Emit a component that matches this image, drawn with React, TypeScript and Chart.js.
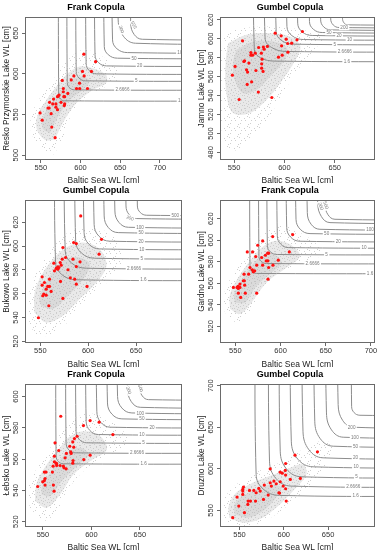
import React, { useEffect, useRef } from "react";
import { Chart, registerables } from "chart.js";

Chart.register(...registerables);

const FONT = "'Liberation Sans', Arial, Helvetica, sans-serif";
const X_TITLE = "Baltic Sea WL [cm]";
const LEVELS = ["1.6", "2.6666", "5", "10", "20", "50", "100", "200", "500"];

type Pt = [number, number];

// ---------------- Panel 1 : Resko Przymorskie (Frank) ----------------
const p1Title = "Frank Copula";
const p1YTitle = "Resko Przymorskie Lake WL [cm]";
const p1XRange = [530, 728];
const p1YRange = [494, 670];
const p1XTicks = [550, 600, 650, 700];
const p1YTicks = [500, 550, 600, 650];
const p1RedX = [604.2, 619.0, 613.8, 602.5, 604.6, 591.7, 588.3, 577.0, 598.8, 578.3, 595.0, 599.0, 608.8, 578.3, 584.0, 579.0, 573.0, 572.0, 571.0, 580.0, 575.4, 580.0, 579.6, 569.0, 565.0, 561.0, 569.0, 571.0, 560.4, 559.0, 563.0, 549.0, 551.7, 563.8, 568.0, 566.0];
const p1RedY = [624.2, 615.0, 603.0, 603.0, 597.5, 597.5, 592.6, 592.0, 588.5, 582.0, 582.0, 582.0, 582.0, 578.0, 576.0, 572.0, 574.0, 573.0, 572.0, 572.0, 565.0, 563.0, 561.0, 563.0, 563.0, 565.0, 559.0, 556.0, 558.0, 558.0, 551.0, 552.0, 543.0, 534.5, 521.5, 569.0];
const p1CloudOuter: Pt[] = [[565.4,500.4],[575.8,514.8],[582.1,535.2],[592.5,555.7],[607.1,572.1],[627.9,582.4],[644.6,590.6],[648.8,600.8],[636.3,615.2],[619.6,625.4],[602.9,629.5],[588.3,621.3],[575.8,607.0],[565.4,592.6],[552.9,576.2],[542.5,559.8],[537.1,545.5],[538.3,527.0],[548.8,510.7]];
const p1CloudMid: Pt[] = [[567.5,518.9],[580.0,543.4],[594.6,563.9],[615.4,580.3],[632.1,588.5],[632.1,598.8],[615.4,607.0],[598.8,609.0],[582.1,598.8],[569.6,584.4],[557.1,568.0],[546.7,551.6],[544.6,533.2],[555.0,518.9]];
const p1CloudCore: Pt[] = [[561.3,527.0],[571.7,547.5],[586.3,568.0],[602.9,580.3],[611.3,590.6],[602.9,596.7],[588.3,592.6],[575.8,580.3],[563.3,563.9],[552.9,547.5],[552.1,533.2]];
const p1Vx = [572.5, 583.3, 594.6, 607.1, 618.3, 630.0, 640.4, 647.5, 663.3];
const p1Hy = [566.8, 580.3, 591.4, 600.0, 609.8, 619.3, 626.2, 637.7, 642.6];
const p1BendY = [574.2, 589.3, 602.9, 613.1, 623.4, 633.6, 641.8, 666.4, 662.3];
const p1BendX = [580.0, 592.5, 606.3, 620.4, 632.9, 646.7, 659.2, 669.6, 677.9];
const p1KneeX = [574.8, 586.1, 598.1, 611.1, 622.7, 635.0, 646.0, 654.1, 667.7];
const p1KneeY = [569.0, 583.0, 594.9, 603.9, 613.9, 623.6, 630.9, 646.3, 648.5];
const p1LabelText = ["1.6", "2.6666", "5", "20", "50", "100", "200", "500"];
const p1LabelX = [727, 652.9, 670.4, 674.6, 667.5, 727, 651.7, 667.5];
const p1LabelY = [566.8, 580.3, 591.4, 609.8, 619.3, 626.2, 654.9, 660.2];
const p1LabelRot = [0, 0, 0, 0, 0, 0, 70, 62];

// ---------------- Panel 2 : Jamno (Gumbel) ----------------
const p2Title = "Gumbel Copula";
const p2YTitle = "Jamno Lake WL [cm]";
const p2XRange = [536, 690];
const p2YRange = [472, 623];
const p2XTicks = [550, 600, 650];
const p2YTicks = [480, 500, 520, 540, 560, 580, 600, 620];
const p2RedX = [617.9, 590.8, 596.8, 612.5, 601.8, 558.4, 607.2, 603.2, 597.2, 583.1, 579.1, 579.8, 574.4, 571.1, 566.7, 568.4, 566.7, 577.1, 603.5, 597.8, 594.1, 577.8, 564.7, 559.7, 560.4, 551.0, 577.4, 577.4, 562.4, 563.4, 571.7, 578.8, 548.3, 567.4, 563.0, 574.1, 555.0, 587.5];
const p2RedY = [607.7, 605.9, 603.1, 598.9, 599.6, 597.8, 595.4, 595.0, 592.6, 591.9, 591.2, 589.0, 590.8, 584.8, 585.5, 582.7, 582.7, 584.8, 585.9, 582.7, 580.6, 578.5, 574.3, 576.0, 576.7, 570.8, 573.6, 569.0, 567.2, 564.8, 566.5, 565.5, 561.6, 554.6, 551.8, 543.7, 535.9, 538.0];
const p2CloudOuter: Pt[] = [[539.0,605.9],[559.0,611.2],[582.4,613.0],[605.9,611.2],[625.9,607.7],[639.3,602.4],[632.6,591.9],[615.9,570.8],[602.5,549.7],[589.1,525.1],[572.4,500.4],[555.7,482.8],[542.3,486.3],[537.3,507.4],[536.3,553.2],[537.3,588.3]];
const p2CloudMid: Pt[] = [[544.0,595.4],[562.4,604.2],[585.8,605.9],[605.9,602.4],[615.9,591.9],[609.2,574.3],[595.8,553.2],[582.4,535.6],[565.7,521.5],[549.0,521.5],[542.3,542.6],[541.6,574.3]];
const p2CloudCore: Pt[] = [[552.3,588.3],[569.1,597.1],[589.1,597.1],[602.5,590.1],[599.2,576.0],[585.8,560.2],[572.4,546.1],[559.0,542.6],[550.7,556.7],[549.0,574.3]];
const p2Vx = [570.1, 580.8, 591.8, 602.5, 613.2, 624.9, 636.0, 646.0, 657.7];
const p2Hy = [576.4, 586.6, 594.3, 599.2, 603.5, 606.6, 609.4, 611.9, 614.7];
const p2BendY = [588.3, 600.7, 607.7, 613.0, 616.5, 618.2, 620.0, 621.0, 621.7];
const p2BendX = [590.8, 602.5, 609.2, 619.2, 627.6, 637.6, 646.0, 654.3, 662.7];
const p2KneeX = [576.3, 587.3, 597.0, 607.5, 617.5, 628.7, 639.0, 648.5, 659.2];
const p2KneeY = [580.0, 590.8, 598.3, 603.3, 607.4, 610.1, 612.6, 614.6, 616.8];
const p2LabelText = ["1.6", "2.6666", "5", "10", "20", "50", "200"];
const p2LabelX = [662.0, 660.0, 650.0, 664.7, 654.3, 644.3, 659.4];
const p2LabelY = [576.4, 586.6, 594.3, 599.2, 603.5, 606.6, 611.9];
const p2LabelRot = [0, 0, 0, 0, 0, 0, 0];

// ---------------- Panel 3 : Bukowo (Gumbel) ----------------
const p3Title = "Gumbel Copula";
const p3YTitle = "Bukowo Lake WL [cm]";
const p3XRange = [534, 698];
const p3YRange = [518.6, 638.7];
const p3XTicks = [550, 600, 650];
const p3YTicks = [520, 540, 560, 580, 600, 620];
const p3RedX = [592.2, 613.9, 584.8, 587.6, 573.6, 611.4, 591.5, 584.1, 576.4, 572.9, 570.8, 564.1, 569.4, 571.8, 568.3, 566.6, 564.8, 568.3, 578.9, 587.6, 581.3, 585.9, 587.6, 598.8, 571.1, 559.6, 551.9, 551.9, 554.3, 556.1, 559.6, 557.8, 553.6, 556.1, 552.6, 561.3, 573.6, 558.9, 548.0];
const p3RedY = [625.3, 605.7, 603.0, 602.1, 598.8, 593.2, 586.8, 589.0, 590.4, 589.0, 586.2, 585.6, 582.0, 584.0, 580.6, 581.2, 579.2, 582.6, 580.1, 582.8, 573.3, 572.2, 568.0, 566.1, 570.3, 572.2, 574.2, 567.2, 569.4, 563.8, 566.1, 566.1, 559.7, 558.8, 558.3, 561.9, 556.0, 549.9, 539.8];
const p3CloudOuter: Pt[] = [[538.6,533.1],[549.1,524.7],[566.6,527.5],[587.6,544.3],[608.6,561.1],[626.2,575.0],[636.7,591.8],[629.7,605.7],[612.1,614.1],[591.1,614.1],[573.6,608.5],[559.6,594.6],[545.6,577.8],[537.9,558.3]];
const p3CloudMid: Pt[] = [[543.8,544.3],[556.1,535.9],[573.6,541.5],[591.1,555.5],[608.6,569.4],[619.1,583.4],[612.1,597.4],[594.6,603.0],[577.1,598.8],[563.1,589.0],[550.8,575.0],[543.8,559.7]];
const p3CloudCore: Pt[] = [[550.8,549.9],[563.1,547.1],[578.9,558.3],[594.6,572.2],[601.6,584.8],[591.1,590.4],[577.1,589.0],[564.8,580.6],[554.3,566.6],[549.1,556.9]];
const p3Vx = [565.9, 576.0, 586.9, 595.7, 606.2, 616.7, 627.9, 639.5, 651.4];
const p3Hy = [571.7, 581.4, 589.8, 597.6, 604.1, 611.3, 615.8, 623.1, 625.9];
const p3BendY = [586.2, 596.0, 604.3, 611.3, 618.3, 625.3, 629.5, 633.7, 633.7];
const p3BendX = [587.6, 598.1, 606.9, 612.1, 622.6, 631.4, 641.9, 650.7, 661.2];
const p3KneeX = [572.4, 582.6, 592.9, 600.6, 611.1, 621.1, 632.1, 642.9, 654.4];
const p3KneeY = [576.1, 585.8, 594.2, 601.7, 608.4, 615.5, 619.9, 626.3, 628.2];
const p3LabelText = ["1.6", "2.6666", "5", "10", "20", "50", "100", "200", "500"];
const p3LabelX = [657.7, 647.9, 655.9, 655.9, 655.2, 655.2, 654.2, 643.7, 691.0];
const p3LabelY = [571.7, 581.4, 589.8, 597.6, 604.1, 611.3, 615.8, 623.6, 625.9];
const p3LabelRot = [0, 0, 0, 0, 0, 0, 0, 20, 0];

// ---------------- Panel 4 : Gardno (Frank) ----------------
const p4Title = "Frank Copula";
const p4YTitle = "Gardno Lake WL [cm]";
const p4XRange = [533, 704.5];
const p4YRange = [504.5, 637.3];
const p4XTicks = [550, 600, 650, 700];
const p4YTicks = [520, 540, 560, 580, 600, 620];
const p4RedX = [613.4, 591.3, 580.2, 609.7, 574.7, 563.2, 569.1, 585.7, 583.2, 586.8, 572.5, 579.1, 584.2, 586.0, 597.5, 573.6, 580.2, 586.8, 591.6, 566.2, 568.8, 571.4, 569.9, 564.7, 559.6, 586.1, 558.8, 559.9, 555.1, 552.9, 555.1, 560.3, 547.8, 553.3, 553.3, 561.0, 573.6, 555.9, 551.8];
const p4RedY = [605.2, 603.3, 599.3, 589.1, 595.3, 589.1, 589.1, 587.9, 586.0, 587.9, 584.8, 583.9, 580.8, 580.8, 581.4, 576.8, 576.8, 574.6, 576.8, 574.6, 572.5, 571.5, 570.6, 568.4, 568.4, 563.8, 562.3, 562.3, 559.2, 557.0, 556.1, 558.2, 556.1, 555.2, 550.8, 550.8, 550.8, 546.8, 556.1];
const p4CloudOuter: Pt[] = [[538.5,532.9],[551.4,523.7],[564.3,529.9],[577.3,551.5],[595.7,566.9],[621.5,579.2],[643.6,585.4],[640.0,596.2],[621.5,607.0],[604.9,613.2],[590.2,611.7],[577.3,602.4],[566.2,590.1],[551.4,573.1],[540.4,557.6],[536.7,543.7]];
const p4CloudMid: Pt[] = [[544.1,536.0],[555.1,531.4],[568.0,542.2],[584.6,560.7],[606.8,574.6],[621.5,585.4],[610.4,596.2],[593.9,599.3],[579.1,593.1],[566.2,580.8],[553.3,565.3],[544.1,549.9]];
const p4CloudCore: Pt[] = [[549.6,542.2],[560.7,542.2],[573.6,557.6],[590.2,570.0],[601.2,579.2],[592.0,587.0],[577.3,583.9],[566.2,574.6],[555.1,560.7],[548.5,549.9]];
const p4Vx = [566.2, 576.1, 585.4, 596.4, 606.8, 617.1, 629.6, 641.1, 649.2];
const p4Hy = [569.1, 578.3, 586.7, 593.1, 599.0, 606.1, 610.1, 616.3, 619.4];
const p4BendY = [574.6, 584.8, 594.7, 604.0, 611.7, 619.4, 625.6, 634.8, 633.3];
const p4BendX = [573.6, 584.6, 596.4, 608.6, 621.5, 632.6, 643.6, 654.7, 660.2];
const p4KneeX = [568.4, 578.7, 588.7, 600.1, 611.2, 621.8, 633.8, 645.2, 652.5];
const p4KneeY = [570.8, 580.3, 589.1, 596.4, 602.8, 610.1, 614.8, 621.9, 623.6];
const p4LabelText = ["1.6", "2.6666", "5", "10", "20", "50", "100", "200", "500"];
const p4LabelX = [699.0, 635.5, 651.0, 692.3, 663.9, 651.0, 699.0, 644.7, 650.3];
const p4LabelY = [569.1, 578.3, 586.7, 593.1, 599.0, 606.1, 610.1, 631.5, 632.5];
const p4LabelRot = [0, 0, 0, 0, 0, 0, 0, 70, 70];

// ---------------- Panel 5 : Łebsko (Frank) ----------------
const p5Title = "Frank Copula";
const p5YTitle = "Łebsko Lake WL [cm]";
const p5XRange = [531.5, 693.5];
const p5YRange = [516.6, 608];
const p5XTicks = [550, 600, 650];
const p5YTicks = [520, 540, 560, 580, 600];
const p5RedX = [568.4, 598.7, 608.0, 591.8, 622.2, 585.3, 582.5, 580.8, 562.5, 577.7, 581.8, 566.3, 578.7, 579.1, 574.2, 561.8, 598.7, 572.9, 581.1, 592.2, 561.8, 563.6, 564.2, 580.8, 564.2, 567.7, 560.5, 571.8, 574.0, 559.8, 571.1, 553.2, 551.5, 552.2, 551.5, 549.8, 544.6, 552.2, 560.8, 561.5];
const p5RedY = [587.4, 584.6, 583.6, 581.4, 575.7, 574.6, 573.1, 571.0, 570.4, 568.2, 567.6, 565.5, 564.6, 563.6, 563.6, 561.9, 562.5, 560.8, 559.1, 559.7, 558.3, 557.4, 557.0, 557.4, 555.9, 555.9, 555.5, 554.4, 553.8, 551.7, 555.5, 551.7, 551.7, 547.6, 546.3, 545.5, 542.5, 543.4, 543.4, 539.5];
const p5CloudOuter: Pt[] = [[536.7,528.9],[550.5,520.4],[564.2,526.8],[574.6,539.5],[591.8,552.3],[612.5,560.8],[633.2,567.2],[636.6,574.6],[622.8,583.1],[605.6,588.4],[590.1,588.4],[574.6,581.0],[562.5,571.4],[548.7,558.7],[538.4,548.0],[533.9,537.4]];
const p5CloudMid: Pt[] = [[541.8,533.2],[553.9,528.9],[567.7,537.4],[581.5,550.2],[598.7,558.7],[616.0,566.1],[609.1,574.6],[593.5,577.8],[578.0,574.6],[566.0,566.1],[553.9,556.6],[543.6,544.9]];
const p5CloudCore: Pt[] = [[548.7,537.4],[557.4,536.4],[569.4,545.9],[584.9,555.5],[597.0,562.9],[588.4,567.2],[574.6,564.0],[564.2,556.6],[553.9,548.0],[548.7,541.7]];
const p5Vx = [563.6, 573.9, 584.2, 594.6, 605.6, 616.6, 627.0, 637.3, 649.7];
const p5Hy = [557.0, 564.0, 570.4, 575.7, 580.4, 585.7, 589.5, 593.1, 598.0];
const p5BendY = [561.9, 570.4, 577.8, 584.2, 590.6, 595.9, 600.1, 605.0, 605.9];
const p5BendX = [571.1, 583.2, 595.3, 607.3, 619.4, 631.5, 641.8, 650.4, 659.0];
const p5KneeX = [565.9, 576.7, 587.5, 598.4, 609.7, 621.1, 631.4, 641.2, 652.5];
const p5KneeY = [558.5, 565.9, 572.6, 578.3, 583.5, 588.8, 592.7, 596.7, 600.4];
const p5LabelText = ["1.6", "2.6666", "5", "10", "20", "50", "100", "200", "500"];
const p5LabelX = [653.9, 647.0, 653.9, 652.1, 662.5, 652.1, 650.4, 638.6, 650.8];
const p5LabelY = [557.0, 564.0, 570.4, 575.7, 580.4, 585.7, 589.5, 604.0, 605.4];
const p5LabelRot = [0, 0, 0, 0, 0, 0, 0, 70, 70];

// ---------------- Panel 6 : Druzno (Gumbel) ----------------
const p6Title = "Gumbel Copula";
const p6YTitle = "Druzno Lake WL [cm]";
const p6XRange = [528, 703];
const p6YRange = [530, 702];
const p6XTicks = [550, 600, 650];
const p6YTicks = [550, 600, 650, 700];
const p6RedX = [638.0, 612.7, 602.1, 584.7, 596.0, 598.3, 601.7, 602.1, 618.7, 607.4, 588.9, 596.0, 584.7, 591.5, 578.0, 586.0, 599.4, 571.8, 602.1, 554.5, 553.7, 553.7, 561.3, 566.2, 568.8, 573.4, 582.4, 553.7, 594.5, 595.3, 547.3, 577.1, 559.8, 562.4, 568.1, 602.8, 559.4, 549.2, 555.6, 542.4];
const p6RedY = [620.4, 616.4, 606.4, 600.0, 596.0, 594.8, 598.0, 592.4, 588.4, 587.2, 585.2, 584.4, 583.2, 582.0, 580.4, 579.2, 579.2, 576.4, 576.0, 578.0, 575.2, 573.2, 574.0, 574.0, 571.2, 573.2, 568.4, 569.2, 571.2, 570.8, 566.0, 563.2, 561.2, 561.2, 561.2, 561.2, 557.2, 555.2, 547.2, 541.2];
const p6CloudOuter: Pt[] = [[532.9,537.2],[549.9,531.2],[568.8,533.2],[591.5,545.2],[614.2,565.2],[636.9,589.2],[652.0,613.2],[655.8,629.2],[640.6,633.2],[618.0,621.2],[599.1,609.2],[580.2,601.2],[557.5,589.2],[538.6,573.2],[531.0,557.2]];
const p6CloudMid: Pt[] = [[538.6,541.2],[553.7,535.2],[572.6,539.2],[591.5,553.2],[610.4,573.2],[625.5,593.2],[621.7,605.2],[602.8,599.2],[583.9,591.2],[565.0,583.2],[546.1,571.2],[537.8,555.2]];
const p6CloudCore: Pt[] = [[544.3,545.2],[559.4,541.2],[576.4,549.2],[589.6,563.2],[597.2,577.2],[585.8,581.2],[568.8,575.2],[553.7,567.2],[544.3,557.2]];
const p6Vx = [568.8, 583.9, 596.0, 608.5, 621.7, 635.0, 648.2, 661.4, 676.6];
const p6Hy = [568.0, 579.2, 590.4, 602.4, 613.2, 627.2, 638.0, 650.0, 664.4];
const p6BendY = [593.2, 609.2, 621.2, 633.2, 645.2, 657.2, 667.2, 677.2, 675.2];
const p6BendX = [595.3, 608.5, 619.9, 633.1, 644.4, 655.8, 667.1, 678.4, 686.0];
const p6KneeX = [576.8, 591.3, 603.2, 615.9, 628.5, 641.2, 653.9, 666.5, 679.4];
const p6KneeY = [575.6, 588.2, 599.6, 611.6, 622.8, 636.2, 646.8, 658.2, 667.6];
const p6LabelText = ["1.6", "2.6666", "5", "10", "20", "50", "100", "200"];
const p6LabelX = [681.1, 678.4, 682.2, 681.5, 681.1, 681.1, 680.3, 676.6];
const p6LabelY = [568.0, 579.2, 590.4, 602.4, 613.2, 627.2, 638.0, 650.0];
const p6LabelRot = [0, 0, 0, 0, 0, 0, 0, 0];

// ---------------- assembly ----------------
const PANELS = [
  { title: p1Title, yTitle: p1YTitle, xr: p1XRange, yr: p1YRange, xt: p1XTicks, yt: p1YTicks, rx: p1RedX, ry: p1RedY, outer: p1CloudOuter, mid: p1CloudMid, core: p1CloudCore, vx: p1Vx, hy: p1Hy, by: p1BendY, bx: p1BendX, kx: p1KneeX, ky: p1KneeY, lt: p1LabelText, lx: p1LabelX, ly: p1LabelY, lr: p1LabelRot },
  { title: p2Title, yTitle: p2YTitle, xr: p2XRange, yr: p2YRange, xt: p2XTicks, yt: p2YTicks, rx: p2RedX, ry: p2RedY, outer: p2CloudOuter, mid: p2CloudMid, core: p2CloudCore, vx: p2Vx, hy: p2Hy, by: p2BendY, bx: p2BendX, kx: p2KneeX, ky: p2KneeY, lt: p2LabelText, lx: p2LabelX, ly: p2LabelY, lr: p2LabelRot },
  { title: p3Title, yTitle: p3YTitle, xr: p3XRange, yr: p3YRange, xt: p3XTicks, yt: p3YTicks, rx: p3RedX, ry: p3RedY, outer: p3CloudOuter, mid: p3CloudMid, core: p3CloudCore, vx: p3Vx, hy: p3Hy, by: p3BendY, bx: p3BendX, kx: p3KneeX, ky: p3KneeY, lt: p3LabelText, lx: p3LabelX, ly: p3LabelY, lr: p3LabelRot },
  { title: p4Title, yTitle: p4YTitle, xr: p4XRange, yr: p4YRange, xt: p4XTicks, yt: p4YTicks, rx: p4RedX, ry: p4RedY, outer: p4CloudOuter, mid: p4CloudMid, core: p4CloudCore, vx: p4Vx, hy: p4Hy, by: p4BendY, bx: p4BendX, kx: p4KneeX, ky: p4KneeY, lt: p4LabelText, lx: p4LabelX, ly: p4LabelY, lr: p4LabelRot },
  { title: p5Title, yTitle: p5YTitle, xr: p5XRange, yr: p5YRange, xt: p5XTicks, yt: p5YTicks, rx: p5RedX, ry: p5RedY, outer: p5CloudOuter, mid: p5CloudMid, core: p5CloudCore, vx: p5Vx, hy: p5Hy, by: p5BendY, bx: p5BendX, kx: p5KneeX, ky: p5KneeY, lt: p5LabelText, lx: p5LabelX, ly: p5LabelY, lr: p5LabelRot },
  { title: p6Title, yTitle: p6YTitle, xr: p6XRange, yr: p6YRange, xt: p6XTicks, yt: p6YTicks, rx: p6RedX, ry: p6RedY, outer: p6CloudOuter, mid: p6CloudMid, core: p6CloudCore, vx: p6Vx, hy: p6Hy, by: p6BendY, bx: p6BendX, kx: p6KneeX, ky: p6KneeY, lt: p6LabelText, lx: p6LabelX, ly: p6LabelY, lr: p6LabelRot },
];

// layout of the 3x2 grid (pixels)
const CELL_LEFT = [0, 195, 0, 195, 0, 195];
const CELL_TOP = [0, 0, 183, 183, 367, 367];
const CELL_W = [190, 185, 190, 185, 190, 185];
const CELL_H = [183, 183, 184, 184, 183, 183];
const PAD_RIGHT = [8, 5, 8, 5, 8, 5];
const PAD_LEFT = 10;
const Y_AXIS_W = 15;
const BOX_BOTTOM = 160;

// stipple texture (style only): makes the filled density regions look like a dense point cloud
const STIPPLE_TILE = [
  [0, 0], [3, 1], [6, 0], [1, 3], [5, 3], [8, 2], [2, 6], [7, 5], [4, 7], [0, 8], [9, 8], [6, 9], [3, 4], [9, 5],
];
function makeStipple(bg: string | null, dot: string, every: number): CanvasPattern | string {
  const c = document.createElement("canvas");
  c.width = 10;
  c.height = 10;
  const g = c.getContext("2d");
  if (!g) return bg || dot;
  if (bg) {
    g.fillStyle = bg;
    g.fillRect(0, 0, 10, 10);
  }
  g.fillStyle = dot;
  STIPPLE_TILE.forEach(([x, y], i) => {
    if (i % every === 0) g.fillRect(x, y, 1, 1);
  });
  return g.createPattern(c, "repeat") || dot;
}

const boxPlugin = {
  id: "rbox",
  afterDraw(chart: any) {
    const { ctx, chartArea: a } = chart;
    ctx.save();
    ctx.strokeStyle = "#6a6a6a";
    ctx.lineWidth = 1;
    ctx.strokeRect(Math.round(a.left) + 0.5, Math.round(a.top) + 0.5, Math.round(a.right - a.left) - 1, Math.round(a.bottom - a.top) - 1);
    ctx.restore();
  },
};

const labelPlugin = {
  id: "clabels",
  afterDatasetDraw(chart: any, args: any) {
    const ds = chart.data.datasets[args.index];
    if (!ds.labelTexts) return;
    const { ctx, chartArea: a } = chart;
    ctx.save();
    ctx.beginPath();
    ctx.rect(a.left + 1, a.top + 1, a.right - a.left - 2, a.bottom - a.top - 2);
    ctx.clip();
    ctx.font = `4.6px ${FONT}`;
    ctx.textAlign = "center";
    ctx.textBaseline = "middle";
    args.meta.data.forEach((el: any, i: number) => {
      const t = ds.labelTexts[i];
      const r = ((ds.labelRots[i] || 0) * Math.PI) / 180;
      const w = ctx.measureText(t).width;
      ctx.save();
      ctx.translate(el.x, el.y);
      ctx.rotate(r);
      ctx.fillStyle = "#ffffff";
      ctx.fillRect(-w / 2 - 1.3, -2.7, w + 2.6, 5.4);
      ctx.fillStyle = "#7a7a7a";
      ctx.fillText(t, 0, 0.3);
      ctx.restore();
    });
    ctx.restore();
  },
};

function buildConfig(p: any, idx: number): any {
  const [xMin, xMax] = p.xr;
  const [yMin, yMax] = p.yr;
  const farTop = yMax + (yMax - yMin);
  const farRight = xMax + (xMax - xMin);
  const poly = (pts: Pt[], color: any, order: number) => ({
    type: "line",
    data: [...pts, pts[0]].map(([x, y]) => ({ x, y })),
    borderWidth: 0,
    borderColor: "rgba(0,0,0,0)",
    backgroundColor: color,
    fill: "shape",
    pointRadius: 0,
    tension: 0.35,
    order,
  });
  const contours = LEVELS.map((lev, i) => ({
    type: "line",
    label: lev,
    data: [
      { x: p.vx[i], y: farTop },
      { x: p.vx[i], y: p.by[i] },
      { x: p.kx[i], y: p.ky[i] },
      { x: p.bx[i], y: p.hy[i] },
      { x: farRight, y: p.hy[i] },
    ],
    borderColor: "#8c8c8c",
    borderWidth: 1,
    pointRadius: 0,
    fill: false,
    tension: 0.4,
    order: 3,
  }));
  const labels = {
    type: "scatter",
    data: p.lt.map((_: string, i: number) => ({ x: p.lx[i], y: p.ly[i] })),
    labelTexts: p.lt,
    labelRots: p.lr,
    pointRadius: 0,
    order: 2,
  };
  const reds = {
    type: "scatter",
    data: p.rx.map((x: number, i: number) => ({ x, y: p.ry[i] })),
    pointRadius: 1.6,
    pointBackgroundColor: "#ff1010",
    pointBorderWidth: 0,
    order: 1,
  };
  const H = CELL_H[idx];
  return {
    type: "scatter",
    data: {
      datasets: [
        reds,
        labels,
        ...contours,
        poly(p.core, makeStipple("#dadada", "#c4c4c4", 1), 5),
        poly(p.mid, makeStipple("#e9e9e9", "#cdcdcd", 1), 6),
        poly(p.outer, makeStipple(null, "#cfcfcf", 2), 7),
      ],
    },
    options: {
      animation: false,
      responsive: false,
      devicePixelRatio: 1,
      events: [],
      layout: { padding: { left: PAD_LEFT, right: PAD_RIGHT[idx], top: 0, bottom: 0 } },
      plugins: {
        legend: { display: false },
        tooltip: { enabled: false },
        title: {
          display: true,
          text: p.title,
          color: "#000",
          font: { family: FONT, size: 9, weight: "bold", lineHeight: 1.2 },
          padding: { top: 2, bottom: 4.2 },
        },
      },
      scales: {
        x: {
          type: "linear",
          min: xMin,
          max: xMax,
          afterBuildTicks: (s: any) => {
            s.ticks = p.xt.map((v: number) => ({ value: v }));
          },
          afterFit: (s: any) => {
            s.height = H - BOX_BOTTOM;
          },
          grid: { display: true, drawOnChartArea: false, drawTicks: true, tickLength: 3, color: "#6a6a6a" },
          border: { display: false },
          ticks: { autoSkip: false, maxRotation: 0, padding: 0, color: "#333", font: { family: FONT, size: 7.5 } },
          title: {
            display: true,
            text: X_TITLE,
            color: "#222",
            font: { family: FONT, size: 8.5, lineHeight: 0.6 },
            padding: { top: 0, bottom: 0 },
          },
        },
        y: {
          type: "linear",
          min: yMin,
          max: yMax,
          afterBuildTicks: (s: any) => {
            s.ticks = p.yt.map((v: number) => ({ value: v }));
          },
          afterFit: (s: any) => {
            s.width = Y_AXIS_W;
          },
          grid: { display: true, drawOnChartArea: false, drawTicks: true, tickLength: 3, color: "#6a6a6a" },
          border: { display: false },
          ticks: { autoSkip: false, minRotation: 90, maxRotation: 90, crossAlign: "center", padding: 0, color: "#333", font: { family: FONT, size: 7.5 } },
          title: {
            display: true,
            text: p.yTitle,
            color: "#222",
            font: { family: FONT, size: 8.3, lineHeight: 1.2 },
            padding: { top: -8, bottom: 0 },
          },
        },
      },
    },
    plugins: [boxPlugin, labelPlugin],
  };
}

function Panel({ idx }: { idx: number }) {
  const ref = useRef<HTMLCanvasElement | null>(null);
  useEffect(() => {
    if (!ref.current) return;
    const chart = new Chart(ref.current, buildConfig(PANELS[idx], idx));
    return () => chart.destroy();
  }, [idx]);
  return (
    <div style={{ position: "absolute", left: CELL_LEFT[idx], top: CELL_TOP[idx], width: CELL_W[idx], height: CELL_H[idx] }}>
      <canvas ref={ref} width={CELL_W[idx]} height={CELL_H[idx]} style={{ display: "block" }} />
    </div>
  );
}

export default function App() {
  return (
    <div style={{ position: "absolute", left: 0, top: 0, width: 380, height: 550, background: "#ffffff", overflow: "hidden" }}>
      {PANELS.map((_, i) => (
        <Panel key={i} idx={i} />
      ))}
    </div>
  );
}
